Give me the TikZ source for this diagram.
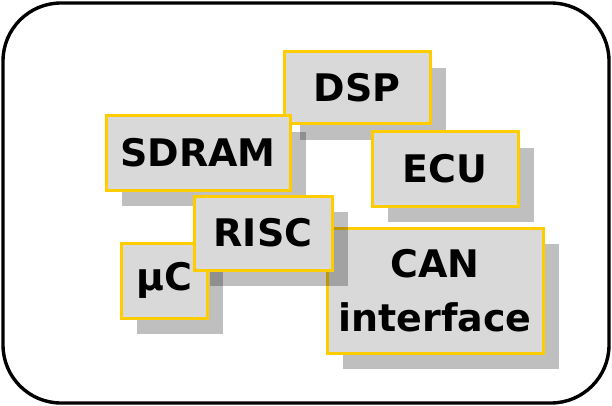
\documentclass[tikz,border=0pt]{standalone}
\usepackage{fontspec}
\setmainfont{DejaVu Sans}
\usetikzlibrary{shadows}
\definecolor{boxfill}{HTML}{D9D9D9}
\definecolor{boxedge}{HTML}{FFCC00}
\tikzset{
  frame/.style={draw=black, line width=3.4pt, rounded corners=58pt},
  chip/.style={rectangle, draw=boxedge, fill=boxfill, line width=3pt,
    inner sep=0pt, align=center,
    font=\fontsize{38}{54}\selectfont\bfseries,
    general shadow={fill=black, fill opacity=0.25, draw=none,
      shadow xshift=16pt, shadow yshift=-16pt}},
}
\begin{document}
\begin{tikzpicture}[x=1pt,y=-1pt]
  \useasboundingbox (0,0) rectangle (612,406);
  \draw[frame] (3,3) rectangle (609,403);
  % blocks, back to front
  \node[chip, minimum width=146pt, minimum height=72pt] (dsp) at (357,88) {DSP};
  \node[chip, minimum width=184pt, minimum height=74pt] (sdram) at (198,153) {SDRAM};
  \node[chip, minimum width=146pt, minimum height=74pt] (ecu) at (445,169) {ECU};
  \node[chip, minimum width=216pt, minimum height=125pt] (can) at (435,290.5) {CAN\\interface};
  \node[chip, minimum width=86pt, minimum height=75pt] (muc) at (164,280.5) {\raisebox{-5pt}{μC}};
  \node[chip, minimum width=138pt, minimum height=74pt] (risc) at (263,233) {RISC};
\end{tikzpicture}
\end{document}
